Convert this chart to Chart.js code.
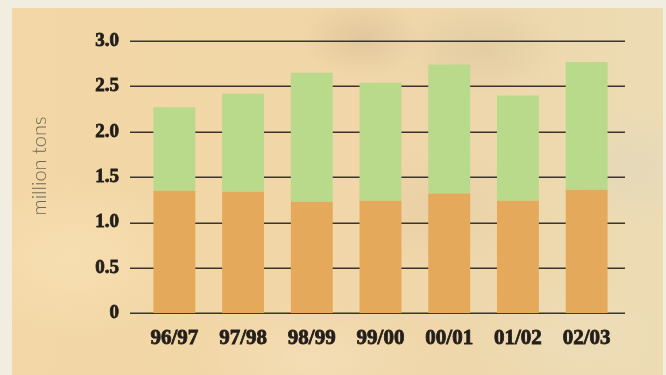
<!DOCTYPE html>
<html>
<head>
<meta charset="utf-8">
<script src="https://cdn.jsdelivr.net/npm/chart.js@4/dist/chart.umd.min.js"></script>
<style>
  html, body { margin: 0; padding: 0; width: 666px; height: 375px; overflow: hidden; background: #f1ede0; }
  #panel {
    position: absolute; left: 12px; top: 8px; width: 651px; height: 367px;
    background:
      radial-gradient(ellipse 60px 40px at 350px 30px, rgba(196,170,130,0.35), rgba(196,170,130,0) 100%),
      radial-gradient(ellipse 80px 50px at 470px 40px, rgba(200,178,140,0.3), rgba(200,178,140,0) 100%),
      radial-gradient(ellipse 70px 60px at 620px 160px, rgba(225,215,190,0.6), rgba(225,215,190,0) 100%),
      radial-gradient(ellipse 90px 60px at 430px 200px, rgba(215,190,150,0.3), rgba(215,190,150,0) 100%),
      radial-gradient(ellipse 120px 80px at 60px 250px, rgba(250,228,185,0.6), rgba(250,228,185,0) 100%),
      radial-gradient(ellipse 120px 60px at 300px 350px, rgba(245,225,190,0.6), rgba(245,225,190,0) 100%),
      radial-gradient(ellipse 100px 60px at 560px 330px, rgba(236,222,185,0.7), rgba(236,222,185,0) 100%),
      linear-gradient(90deg, #f3d7a6 0%, #f1d6a7 45%, #eed8ae 80%, #ecdcb4 100%);
  }
  #wrap { position: absolute; left: 0; top: 0; width: 666px; height: 375px; }
</style>
</head>
<body>
<div id="panel"></div>
<div id="wrap"><canvas id="chart" width="666" height="375"></canvas></div>
<script>
// Marketing years
const seasons = ['96/97', '97/98', '98/99', '99/00', '00/01', '01/02', '02/03'];
// Lower (orange) segment, million tons
const lowerPart = [1.35, 1.34, 1.23, 1.24, 1.32, 1.24, 1.36];
// Upper (green) segment, million tons
const upperPart = [0.92, 1.08, 1.42, 1.30, 1.42, 1.16, 1.41];
// Value axis labels
const yTickLabels = ['0', '0.5', '1.0', '1.5', '2.0', '2.5', '3.0'];
const yAxisTitle = 'million tons';

const TICK_FONT = 'Liberation Serif';
const INK = '#231e1a';

// Horizontal rules that run a little past the bar area on both sides
const ruleLines = {
  id: 'ruleLines',
  beforeDatasetsDraw(chart) {
    const { ctx, chartArea, scales } = chart;
    const y = scales.y;
    ctx.save();
    ctx.strokeStyle = '#3b342d';
    ctx.lineWidth = 1.5;
    y.ticks.forEach(t => {
      const py = Math.round(y.getPixelForValue(t.value)) + 0.25;
      ctx.beginPath();
      ctx.moveTo(chartArea.left - 10, py);
      ctx.lineTo(chartArea.right + 4, py);
      ctx.stroke();
    });
    ctx.restore();
  }
};

// Rotated axis caption
const sideTitle = {
  id: 'sideTitle',
  afterDraw(chart) {
    const { ctx } = chart;
    ctx.save();
    ctx.translate(40, 166);
    ctx.rotate(-Math.PI / 2);
    ctx.font = '300 20px Lato, "Open Sans", sans-serif';
    ctx.fillStyle = '#6f6759';
    ctx.textAlign = 'center';
    ctx.textBaseline = 'middle';
    ctx.fillText(yAxisTitle, 0, 0);
    ctx.restore();
  }
};

new Chart(document.getElementById('chart'), {
  type: 'bar',
  data: {
    labels: seasons,
    datasets: [
      { data: lowerPart, backgroundColor: '#e5a95b', borderWidth: 0 },
      { data: upperPart, backgroundColor: '#b9d98b', borderWidth: 0 }
    ]
  },
  options: {
    responsive: false,
    animation: false,
    devicePixelRatio: 1,
    layout: { padding: { left: 0, right: 45, top: 41, bottom: 0 } },
    plugins: { legend: { display: false }, tooltip: { enabled: false }, title: { display: false } },
    datasets: { bar: { barPercentage: 0.61, categoryPercentage: 1.0 } },
    scales: {
      x: {
        stacked: true,
        offset: true,
        grid: { display: false, drawTicks: false },
        border: { display: false },
        ticks: {
          padding: 13,
          color: INK,
          textStrokeColor: INK,
          textStrokeWidth: 0.8,
          font: { family: TICK_FONT, weight: 'bold', size: 21 },
          maxRotation: 0
        },
        afterFit(scale) { scale.height = 61.7; }
      },
      y: {
        stacked: true,
        min: 0,
        max: 3,
        grid: { display: false, drawTicks: false },
        border: { display: false },
        ticks: {
          stepSize: 0.5,
          padding: 21,
          color: INK,
          textStrokeColor: INK,
          textStrokeWidth: 0.8,
          font: { family: TICK_FONT, weight: 'bold', size: 19 },
          callback: (v, i) => yTickLabels[i]
        },
        afterFit(scale) { scale.width = 140; }
      }
    }
  },
  plugins: [ruleLines, sideTitle]
});
</script>
</body>
</html>
